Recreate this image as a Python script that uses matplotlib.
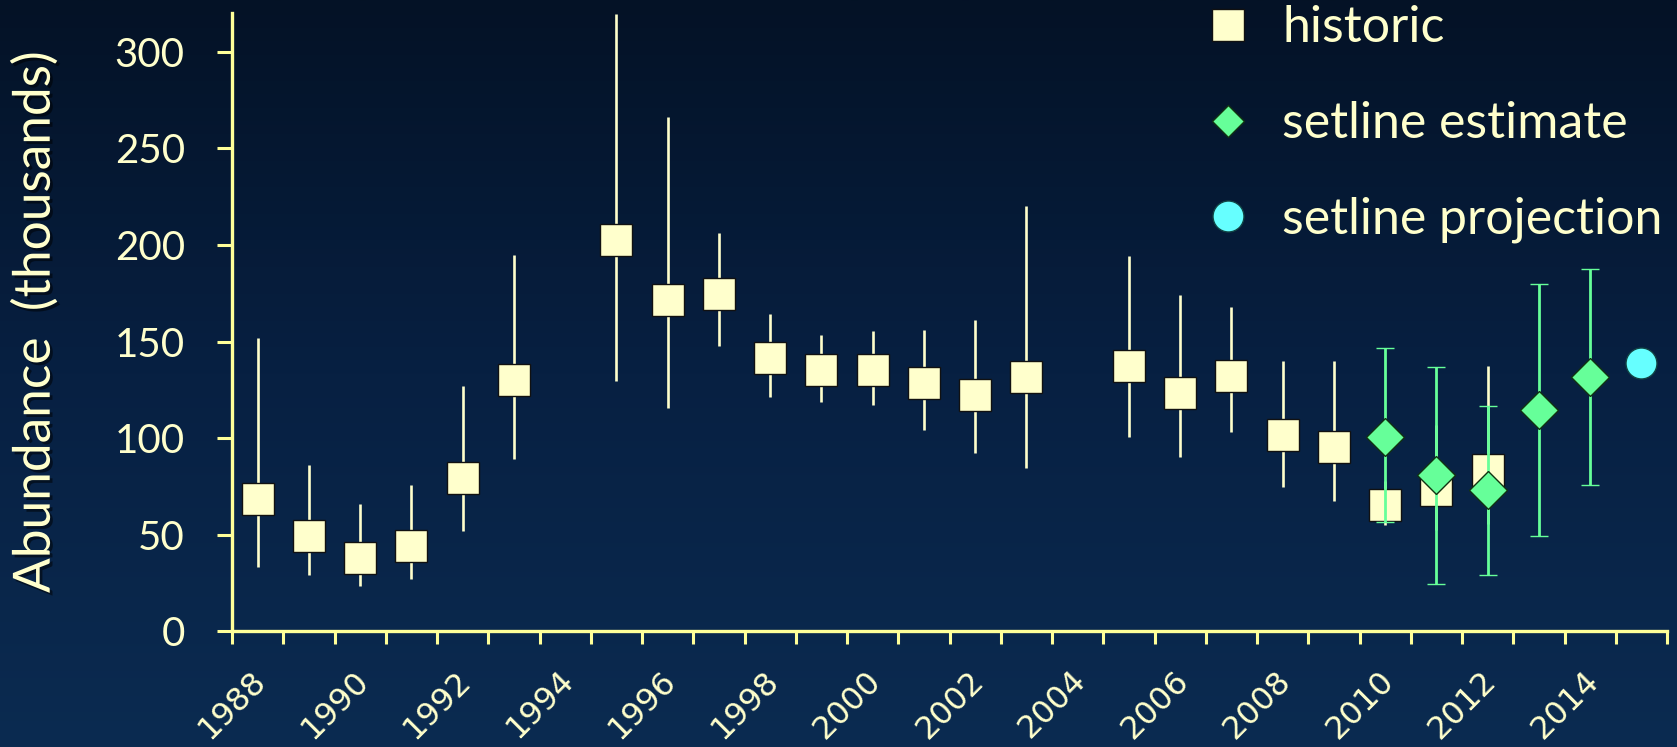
import numpy as np
import matplotlib
matplotlib.use("Agg")
import matplotlib.pyplot as plt
from matplotlib.lines import Line2D
from matplotlib.colors import LinearSegmentedColormap
import matplotlib.patheffects as pe
import matplotlib.transforms as mtransforms

# ---- data ----
hist_years = [1988, 1989, 1990, 1991, 1992, 1993, 1995, 1996, 1997, 1998, 1999, 2000,
              2001, 2002, 2003, 2005, 2006, 2007, 2008, 2009, 2010, 2011, 2012]
hist_values = [68.3, 49.3, 38.2, 44.3, 79.3, 130.3, 202.4, 171.3, 174.4, 141.5, 135.4, 135.4,
               128.5, 122.3, 131.5, 137.4, 123.3, 132.4, 101.5, 95.3, 65.4, 73.4, 83.4]
hist_low = [33.2, 29.1, 23.4, 27.1, 52.2, 89.2, 129.4, 115.4, 147.5, 121.3, 118.5, 117.3,
            104.4, 92.3, 84.5, 100.6, 90.5, 103.3, 74.5, 67.4, 55.0, 52.5, 55.6]
hist_high = [152.0, 86.2, 66.0, 75.9, 126.8, 194.6, 319.4, 266.4, 206.3, 164.3, 153.4, 155.3,
             156.2, 161.3, 220.0, 194.2, 173.9, 168.1, 140.1, 140.1, 78.0, 107.0, 137.2]

est_years = [2010, 2011, 2012, 2013, 2014]
est_values = [100.7, 80.9, 73.1, 114.7, 131.5]
est_low = [56.8, 24.7, 29.4, 49.6, 75.9]
est_high = [146.5, 137.0, 116.6, 180.0, 187.4]

proj_years = [2015]
proj_values = [138.7]

year_ticks = list(range(1988, 2015, 2))
labels = ["historic", "setline estimate", "setline projection"]

# ---- style ----
CREAM = "#FFFFCC"
GREEN = "#66FF99"
CYAN = "#66FFFF"
AXC = "#FFFF99"
TXT = "#FFFFCC"

W, H, DPI = 16.77, 7.47, 100
fig = plt.figure(figsize=(W, H), dpi=DPI)

bg = fig.add_axes([0, 0, 1, 1], zorder=-10)
cmap = LinearSegmentedColormap.from_list("bg", ["#041226", "#072042", "#0b2b51"])
grad = np.linspace(0, 1, 256).reshape(-1, 1)
bg.imshow(grad, aspect="auto", cmap=cmap, extent=[0, 1, 0, 1], origin="upper")
bg.axis("off")

ax = fig.add_axes([232 / 1677, 1 - 631.4 / 747, (1667 - 232) / 1677, (631.4 - 13) / 747])
ax.patch.set_alpha(0)

hv = np.array(hist_values)
ax.errorbar(hist_years, hv, yerr=[hv - np.array(hist_low), np.array(hist_high) - hv],
            fmt="s", ms=22.8, mfc=CREAM, mec="#111111", mew=1.0,
            ecolor=CREAM, elinewidth=1.9, capsize=0, zorder=2)

ev = np.array(est_values)
ax.errorbar(est_years, ev, yerr=[ev - np.array(est_low), np.array(est_high) - ev],
            fmt="D", ms=19.3, mfc=GREEN, mec="#113311", mew=1.0,
            ecolor=GREEN, elinewidth=2.0, capsize=6.5, capthick=3.0, zorder=4)

ax.plot(proj_years, proj_values, "o", ms=22.3, mfc=CYAN, mec="#114444", mew=1.0,
        zorder=5, linestyle="none")

ax.set_xlim(1987.5, 2015.5)
ax.set_ylim(0, 320)

for s in ["top", "right"]:
    ax.spines[s].set_visible(False)
for s in ["left", "bottom"]:
    ax.spines[s].set_color(AXC)
    ax.spines[s].set_linewidth(2.4)

ax.set_yticks([0, 50, 100, 150, 200, 250, 300])
ax.tick_params(axis="y", direction="out", length=11, width=2.2, color=AXC,
               labelcolor=TXT, labelsize=29, pad=23)
for t in ax.get_yticklabels():
    t.set_fontfamily("Lato")

ax.set_xticks(np.arange(1987.5, 2015.6, 1.0))
ax.set_xticklabels([])
ax.tick_params(axis="x", which="major", direction="out", length=9, width=2.2, color=AXC)
ax.set_xticks(year_ticks, minor=True)
ax.tick_params(axis="x", which="minor", length=0, pad=32)
ax.set_xticklabels([str(y) for y in year_ticks], minor=True, rotation=45,
                   ha="right", va="center", rotation_mode="anchor",
                   fontfamily="DejaVu Sans", fontsize=23, color=TXT)
shift = mtransforms.ScaledTranslation(4 / DPI, 0, fig.dpi_scale_trans)
for t in ax.get_xticklabels(minor=True):
    t.set_transform(t.get_transform() + shift)

shadow = [pe.SimplePatchShadow(offset=(2, -2), shadow_rgbFace="black", alpha=0.5), pe.Normal()]
ylab = ax.set_ylabel("Abundance  (thousands)", fontfamily="Lato", fontsize=37,
                     color=TXT, va="center")
ylab.set_path_effects(shadow)
ax.yaxis.set_label_coords(-0.137, 0.5)

handles = [
    Line2D([], [], marker="s", ls="none", ms=23, mfc=CREAM, mec="#111111", mew=1.0),
    Line2D([], [], marker="D", ls="none", ms=16, mfc=GREEN, mec="#113311", mew=1.0),
    Line2D([], [], marker="o", ls="none", ms=22.3, mfc=CYAN, mec="#114444", mew=1.0),
]
leg = ax.legend(handles, labels, loc="upper left", bbox_to_anchor=(1200 / 1677, 1 - 3 / 747),
                bbox_transform=fig.transFigure, frameon=False,
                prop={"family": "Lato", "size": 36}, labelspacing=0.99,
                handletextpad=0.6, handlelength=1.0, borderaxespad=0, borderpad=0.05)
for t in leg.get_texts():
    t.set_color(TXT)

fig.savefig("out.png", dpi=DPI)
